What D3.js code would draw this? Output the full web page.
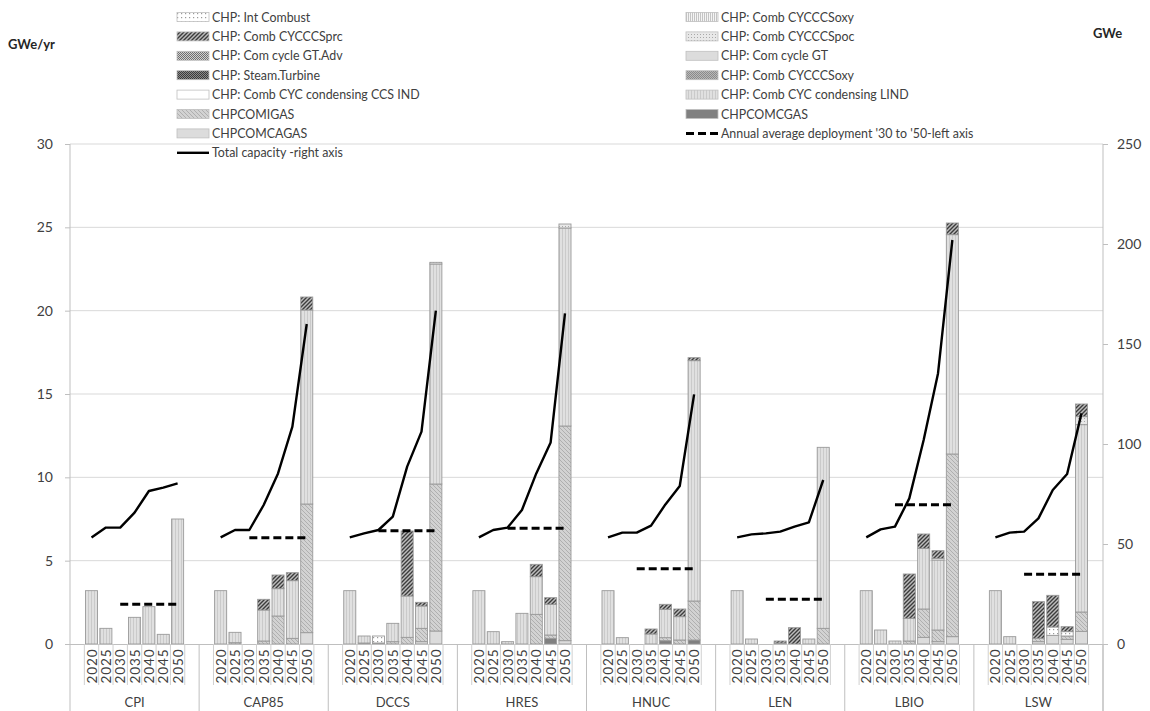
<!DOCTYPE html>
<html><head><meta charset="utf-8">
<script src="https://cdn.jsdelivr.net/npm/d3@7"></script>
<style>body{margin:0;background:#fff}svg{display:block;font-family:Lato,"Open Sans",sans-serif}</style>
</head><body>
<svg id="chart" width="1150" height="711"></svg>
<script>
// ---------------- DATA ----------------
const groups = ["CPI","CAP85","DCCS","HRES","HNUC","LEN","LBIO","LSW"];
const years = ["2020","2025","2030","2035","2040","2045","2050"];
const leftTicks = [0,5,10,15,20,25,30];
const rightTicks = [0,50,100,150,200,250];

// stacked series (GWe/yr), 7 values per group in group order
const chpcomcagas = [
  0,0,0,0,0,0,0,
  0,0,0,0,0,0,0.68,
  0,0,0,0,0,0.14,0.78,
  0,0,0,0,0,0,0.2,
  0,0,0,0,0,0,0,
  0,0,0,0,0,0,0,
  0,0,0,0,0.4,0.14,0.44,
  0,0,0,0.14,0.52,0.28,0.76];
const chpcomcgas = [
  0,0,0,0,0,0,0,
  0,0,0,0,0,0,0,
  0,0,0,0,0,0,0,
  0,0,0,0,0,0.34,0,
  0,0,0,0,0.2,0,0.24,
  0,0,0,0,0,0,0,
  0,0,0,0,0,0,0,
  0,0,0,0,0,0,0];
const chpcomigas = [
  0,0,0,0,0,0,0,
  0,0.08,0,0.18,1.68,0.34,7.72,
  0,0.06,0,0.14,0.4,0.8,8.82,
  0,0,0,0,1.78,0.2,12.88,
  0,0,0,0,0.18,0.24,2.34,
  0,0,0,0,0,0,0.94,
  0,0,0,0.18,1.7,0.7,10.96,
  0,0,0,0.2,0,0.2,1.16];
const condLIND = [
  3.2,0.94,0,1.6,2.24,0.58,7.5,
  3.2,0.62,0,1.86,1.64,3.46,11.64,
  3.2,0.42,0.06,1.1,2.48,1.34,13.2,
  3.2,0.74,0.14,1.84,2.26,1.84,11.88,
  3.2,0.38,0,0.6,1.7,1.4,14.42,
  3.2,0.3,0,0.06,0,0.3,10.86,
  3.2,0.84,0.18,1.36,3.64,4.2,13.16,
  3.2,0.44,0,0,0,0,11.24];
const intCombust = [
  0,0,0,0,0,0,0,
  0,0,0,0,0,0,0,
  0,0,0.42,0,0,0,0,
  0,0,0,0,0,0,0,
  0,0,0,0,0,0,0,
  0,0,0,0,0,0,0,
  0,0,0,0,0,0.1,0,
  0,0,0,0,0.5,0.26,0];
const ccsPoc = [
  0,0,0,0,0,0,0,
  0,0,0,0,0,0,0,
  0,0,0,0,0,0,0.1,
  0,0,0,0,0,0,0.24,
  0,0,0,0,0,0,0,
  0,0,0,0,0,0,0,
  0,0,0,0,0,0,0,
  0,0,0,0,0,0,0.48];
const ccsPrc = [
  0,0,0,0,0,0,0,
  0,0,0,0.64,0.82,0.48,0.78,
  0,0,0,0,3.9,0.22,0,
  0,0,0,0,0.74,0.4,0,
  0,0,0,0.3,0.3,0.46,0.18,
  0,0,0,0.12,0.98,0,0,
  0,0,0,2.66,0.86,0.46,0.7,
  0,0,0,2.2,1.9,0.3,0.76];

// Total capacity (GWe, right axis)
const totalCapacity = [
  53.3,58.2,58.2,65.7,76.5,78.2,80.3,
  53.3,57,57,69.5,85.3,108.7,160,
  53.3,55.3,57,63.7,88.7,106.2,166.7,
  53.3,57,58.2,67,85.3,100.8,165.3,
  53.3,55.7,55.7,59.2,69.8,79,124.8,
  53.3,54.8,55.3,56.2,58.7,60.8,82,
  53.3,57.3,58.7,72.8,102,135.3,202,
  53.3,55.7,56.2,62.8,77,85,115.3];
// Annual average deployment '30 to '50 (GWe/yr, left axis)
const annualAvg = [2.38,6.38,6.8,6.94,4.52,2.68,8.36,4.18];

const legendLeft = ["CHP: Int Combust","CHP: Comb CYCCCSprc","CHP: Com cycle GT.Adv","CHP: Steam.Turbine","CHP: Comb CYC condensing CCS IND","CHPCOMIGAS","CHPCOMCAGAS","Total capacity -right axis"];
const legendRight = ["CHP: Comb CYCCCSoxy","CHP: Comb CYCCCSpoc","CHP: Com cycle GT","CHP: Comb CYCCCSoxy","CHP: Comb CYC condensing LIND","CHPCOMCGAS","Annual average deployment '30 to '50-left axis"];
const legendLeftFill = ["url(#pInt)","url(#pPrc)","url(#pGTAdv)","url(#pSteam)","#ffffff","url(#pIGAS)","#dcdcdc","line"];
const legendRightFill = ["url(#pOxy)","url(#pPoc)","#dcdcdc","url(#pOxy2)","url(#pLIND)","#808080","dash"];

// ---------------- CHART ----------------
const svg = d3.select("#chart");
const M = {l:70, r:1103, t:144, b:644};

const defs = svg.append("defs");
function pat(id, w, h, bg, draw){
  const p = defs.append("pattern").attr("id",id).attr("patternUnits","userSpaceOnUse").attr("width",w).attr("height",h);
  p.append("rect").attr("width",w).attr("height",h).attr("fill",bg);
  draw(p);
}
pat("pInt",4,4,"#ffffff",p=>p.append("rect").attr("x",1).attr("y",1).attr("width",1.2).attr("height",1.2).attr("fill","#9a9a9a"));
pat("pPrc",4,4,"#bdbdbd",p=>{p.append("path").attr("d","M-1,1 L1,-1 M0,4 L4,0 M3,5 L5,3").attr("stroke","#3c3c3c").attr("stroke-width",1.4);});
pat("pGTAdv",2,2,"#cfcfcf",p=>{p.append("rect").attr("width",1).attr("height",1).attr("fill","#6e6e6e");p.append("rect").attr("x",1).attr("y",1).attr("width",1).attr("height",1).attr("fill","#6e6e6e");});
pat("pSteam",2,2,"#8a8a8a",p=>{p.append("rect").attr("width",1).attr("height",1).attr("fill","#3a3a3a");p.append("rect").attr("x",1).attr("y",1).attr("width",1).attr("height",1).attr("fill","#3a3a3a");});
pat("pIGAS",4,4,"#d2d2d2",p=>{p.append("path").attr("d","M-1,-1 L5,5 M-1,3 L1,5 M3,-1 L5,1").attr("stroke","#acacac").attr("stroke-width",0.9);});
pat("pOxy",4,3,"#f4f4f4",p=>{p.append("path").attr("d","M0.5,0 V3 M2.5,0 V3").attr("stroke","#b8b8b8").attr("stroke-width",0.8);});
pat("pPoc",3,3,"#e8e8e8",p=>p.append("rect").attr("x",1).attr("y",1).attr("width",1).attr("height",1).attr("fill","#a8a8a8"));
pat("pOxy2",2,2,"#b8b8b8",p=>{p.append("rect").attr("width",1).attr("height",1).attr("fill","#8a8a8a");p.append("rect").attr("x",1).attr("y",1).attr("width",1).attr("height",1).attr("fill","#8a8a8a");});
pat("pLIND",3,3,"#e0e0e0",p=>{p.append("path").attr("d","M1.5,0 V3").attr("stroke","#c4c4c4").attr("stroke-width",0.8);});

// slots: blank, 7 years, blank per group
const slots = [];
groups.forEach(g=>{ slots.push(g+"|a"); years.forEach(y=>slots.push(g+"|"+y)); slots.push(g+"|b"); });
const x = d3.scaleBand().domain(slots).range([M.l, M.r]).paddingInner(0.16).paddingOuter(0.08);
const step = x.step();
const gap = step - x.bandwidth();
const yL = d3.scaleLinear().domain([0,30]).range([M.b, M.t]);
const yR = d3.scaleLinear().domain([0,250]).range([M.b, M.t]);

// gridlines
svg.append("g").selectAll("line").data(leftTicks.slice(1)).join("line")
  .attr("x1",M.l).attr("x2",M.r).attr("y1",d=>yL(d)).attr("y2",d=>yL(d))
  .attr("stroke","#d9d9d9").attr("stroke-width",1);

// rows
const keys = ["CAGAS","CGAS","IGAS","LIND","Int","Poc","Prc"];
const src = {CAGAS:chpcomcagas, CGAS:chpcomcgas, IGAS:chpcomigas, LIND:condLIND, Int:intCombust, Poc:ccsPoc, Prc:ccsPrc};
const fills = {CAGAS:"#dcdcdc", CGAS:"#808080", IGAS:"url(#pIGAS)", LIND:"url(#pLIND)", Int:"url(#pInt)", Poc:"url(#pPoc)", Prc:"url(#pPrc)"};
const rows = [];
groups.forEach((g,gi)=>years.forEach((yr,yi)=>{
  const i = gi*7+yi; const r = {slot:g+"|"+yr, group:g, year:yr, total:totalCapacity[i]};
  keys.forEach(k=>r[k]=src[k][i]); rows.push(r);
}));
const stacked = d3.stack().keys(keys)(rows);
svg.append("g").selectAll("g").data(stacked).join("g")
  .attr("fill",d=>fills[d.key])
  .selectAll("rect").data(d=>d.filter(s=>s[1]-s[0]>0)).join("rect")
  .attr("x",d=>x(d.data.slot)).attr("width",x.bandwidth())
  .attr("y",d=>yL(d[1])).attr("height",d=>yL(d[0])-yL(d[1]))
  .attr("stroke","#9a9a9a").attr("stroke-width",0.9);

// axes lines
svg.append("line").attr("x1",M.l).attr("x2",M.r).attr("y1",M.b+0.5).attr("y2",M.b+0.5).attr("stroke","#bfbfbf");
const axL = svg.append("g").attr("transform",`translate(${M.l},0)`)
  .call(d3.axisLeft(yL).tickValues(leftTicks).tickSize(5).tickPadding(12).tickFormat(d3.format("d")));
const axR = svg.append("g").attr("transform",`translate(${M.r},0)`)
  .call(d3.axisRight(yR).tickValues(rightTicks).tickSize(5).tickPadding(9).tickFormat(d3.format("d")));
[axL,axR].forEach(a=>{
  a.select(".domain").attr("stroke","#bfbfbf").attr("d", `M0,${M.t}V711`);
  a.selectAll(".tick line").attr("stroke","#bfbfbf");
  a.selectAll(".tick text").attr("font-family","Lato, sans-serif").attr("font-size",14).attr("fill","#404040");
});

// category axis
const cat = svg.append("g");
rows.forEach(r=>{
  const cx = x(r.slot) + x.bandwidth()/2;
  cat.append("text").attr("transform",`translate(${cx+5},666) rotate(-90)`)
    .attr("text-anchor","middle").attr("font-size",13.5).attr("letter-spacing",0.9).attr("fill","#404040").text(r.year);
});
groups.forEach(g=>{
  years.forEach((yr,yi)=>{
    const bx = x(g+"|"+yr) - gap/2;
    cat.append("line").attr("x1",bx).attr("x2",bx).attr("y1",M.b).attr("y2",685).attr("stroke","#d0d0d0");
    if(yi===years.length-1){ const ex = bx+step; cat.append("line").attr("x1",ex).attr("x2",ex).attr("y1",M.b).attr("y2",685).attr("stroke","#d0d0d0"); }
  });
  const gx0 = x(g+"|a") - gap/2, gx1 = x(g+"|b") + x.bandwidth() + gap/2;
  cat.append("line").attr("x1",gx1).attr("x2",gx1).attr("y1",M.b).attr("y2",711).attr("stroke","#bfbfbf");
  cat.append("text").attr("x",(gx0+gx1)/2).attr("y",707).attr("text-anchor","middle").attr("font-size",13).attr("fill","#404040").text(g);
});

// total capacity lines
const line = d3.line().x(d=>x(d.slot)+x.bandwidth()/2).y(d=>yR(d.total));
groups.forEach(g=>{
  svg.append("path").datum(rows.filter(r=>r.group===g)).attr("d",line)
    .attr("fill","none").attr("stroke","#000").attr("stroke-width",2.4).attr("stroke-linejoin","round");
});
// annual average dashed
groups.forEach((g,gi)=>{
  svg.append("line").attr("x1",x(g+"|2030")+x.bandwidth()/2).attr("x2",x(g+"|2050")+x.bandwidth()/2)
    .attr("y1",yL(annualAvg[gi])).attr("y2",yL(annualAvg[gi]))
    .attr("stroke","#000").attr("stroke-width",3).attr("stroke-dasharray","8,4");
});

// titles
svg.append("text").attr("x",8).attr("y",49).attr("font-size",13).attr("font-weight","bold").attr("fill","#262626").text("GWe/yr");
svg.append("text").attr("x",1093).attr("y",38).attr("font-size",13).attr("font-weight","bold").attr("fill","#262626").text("GWe");

// legend
const lg = svg.append("g").attr("font-size",12.4).attr("fill","#404040");
function legendCol(items, fillsArr, sx, tx){
  items.forEach((t,i)=>{
    const cy = 17 + i*19.4;
    const f = fillsArr[i];
    if(f==="line") lg.append("line").attr("x1",sx).attr("x2",sx+32).attr("y1",cy).attr("y2",cy).attr("stroke","#000").attr("stroke-width",2.4);
    else if(f==="dash") lg.append("line").attr("x1",sx).attr("x2",sx+32).attr("y1",cy).attr("y2",cy).attr("stroke","#000").attr("stroke-width",3).attr("stroke-dasharray","8,4");
    else lg.append("rect").attr("x",sx).attr("y",cy-4.5).attr("width",32).attr("height",9).attr("fill",f).attr("stroke","#bfbfbf").attr("stroke-width",0.8);
    lg.append("text").attr("x",tx).attr("y",cy+4.5).text(t);
  });
}
legendCol(legendLeft, legendLeftFill, 177, 212);
legendCol(legendRight, legendRightFill, 686, 721);
</script>
</body></html>
